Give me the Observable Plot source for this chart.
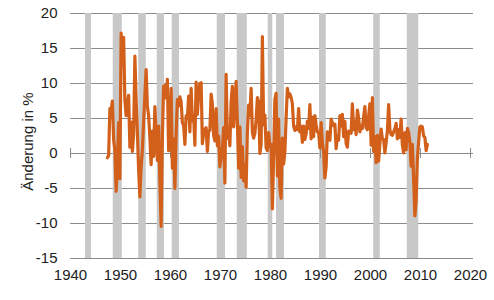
<!DOCTYPE html>
<html>
<head>
<meta charset="utf-8">
<script src="https://cdn.jsdelivr.net/npm/d3@7"></script>
<script src="https://cdn.jsdelivr.net/npm/@observablehq/plot@0.6"></script>
<style>
  html, body { margin: 0; padding: 0; background: #fff; }
  #chart { width: 494px; height: 300px; }
</style>
</head>
<body>
<div id="chart"></div>
<script>
// Quarterly change in %, annualized, starting with Q2 1947
const startYear = 1947;
const startQuarter = 2;
const growth = [
  -0.6, -0.3, 6.4,                 // 1947
  6.2, 7.5, 2.0, 0.5,              // 1948
  -5.4, -1.4, 4.4, -3.6,           // 1949
  17.2, 12.7, 16.6, 7.7,           // 1950
  5.4, 7.1, 8.3, 0.9,              // 1951
  4.5, 0.3, 2.7, 13.9,             // 1952
  7.7, 3.1, -2.4, -6.2,            // 1953
  -1.9, 0.5, 4.6, 8.3,             // 1954
  12.0, 6.8, 5.4, 2.3,             // 1955
  -1.6, 3.2, -0.4, 6.7,            // 1956
  2.6, -1.0, 3.9, -4.1,            // 1957
  -10.4, 2.6, 9.6, 9.7,            // 1958
  7.9, 10.6, 0.4, 1.3,             // 1959
  9.3, -2.1, 2.1, -5.0,            // 1960
  2.7, 7.7, 6.8, 8.1,              // 1961
  7.4, 4.4, 4.0, 1.3,              // 1962
  5.4, 5.0, 8.2, 3.1,              // 1963
  9.3, 4.7, 5.5, 1.2,              // 1964
  10.2, 5.6, 8.4, 10.0,            // 1965
  10.1, 1.4, 2.9, 3.5,             // 1966
  3.7, 0.3, 3.2, 3.3,              // 1967
  8.5, 7.0, 2.6, 1.8,              // 1968
  6.4, 1.1, 2.5, -1.9,             // 1969
  -0.6, 0.6, 3.7, -4.2,            // 1970
  11.3, 2.2, 3.2, 1.1,             // 1971
  7.4, 9.6, 3.8, 6.9,              // 1972
  10.3, 4.5, -2.1, 3.8,            // 1973
  -3.4, 1.0, -3.9, -1.6,           // 1974
  -4.8, 3.1, 6.9, 5.4,             // 1975
  9.3, 3.0, 2.2, 2.9,              // 1976
  4.8, 8.0, 7.4, 0.0,              // 1977
  1.3, 16.7, 4.1, 5.5,             // 1978
  0.8, 0.4, 3.0, 1.0,              // 1979
  1.3, -7.9, -0.5, 7.7,            // 1980
  8.6, -3.2, 4.9, -4.9,            // 1981
  -6.4, 2.2, -1.5, 0.3,            // 1982
  5.1, 9.3, 8.1, 8.5,              // 1983
  8.0, 7.1, 3.9, 3.3,              // 1984
  3.8, 3.4, 6.4, 3.1,              // 1985
  3.9, 1.6, 3.9, 2.0,              // 1986
  2.8, 4.6, 3.6, 7.0,              // 1987
  2.1, 5.2, 2.4, 5.4,              // 1988
  4.1, 3.1, 3.0, 0.8,              // 1989
  4.4, 1.5, 0.3, -3.5,             // 1990
  -1.9, 3.1, 2.0, 1.9,             // 1991
  4.9, 4.4, 4.0, 4.2,              // 1992
  0.7, 2.5, 1.9, 5.4,              // 1993
  3.9, 5.6, 2.4, 4.6,              // 1994
  1.4, 0.9, 3.2, 3.0,              // 1995
  2.9, 7.1, 3.4, 4.6,              // 1996
  2.7, 6.2, 5.1, 3.1,              // 1997
  3.9, 3.6, 5.2, 6.7,              // 1998
  3.7, 3.4, 5.3, 7.1,              // 1999
  1.2, 8.0, 0.3, 2.4,              // 2000
  -1.3, 2.6, -1.1, 1.4,            // 2001
  3.5, 2.1, 2.0, 0.1,              // 2002
  1.6, 3.2, 7.0, 3.4,              // 2003
  2.7, 2.6, 3.1, 3.5,              // 2004
  4.3, 2.1, 3.4, 2.3,              // 2005
  4.9, 1.2, 0.1, 3.0,              // 2006
  0.5, 3.6, 3.0, 1.7,              // 2007
  -1.8, 1.3, -3.7, -8.9,           // 2008
  -6.7, -0.7, 1.7, 3.8,            // 2009
  3.9, 3.8, 2.5, 2.3,              // 2010
  0.4, 1.3                         // 2011
];

// Shaded periods (recessions), as drawn
const recessionStart = [1943.0, 1948.55, 1953.65, 1957.35, 1960.35, 1969.35, 1973.35, 1979.55, 1981.2, 1989.8, 2000.65, 2007.35];
const recessionEnd   = [1944.2, 1950.35, 1955.15, 1958.8,  1961.8,  1971.0,  1975.35, 1980.45, 1982.8, 1991.15, 2001.95, 2009.65];

const xTicks = [1940, 1950, 1960, 1970, 1980, 1990, 2000, 2010, 2020];
const yTicks = [-15, -10, -5, 0, 5, 10, 15, 20];
const yLabel = "Änderung in %";

const series = growth.map((v, i) => ({
  t: startYear + (startQuarter - 1 + i) / 4 + 0.125,
  v
}));
const recessions = recessionStart.map((s, i) => ({start: s, end: recessionEnd[i]}));

const gridColor = "#8c8c8c";
const chart = Plot.plot({
  width: 494,
  height: 300,
  marginLeft: 70,
  marginRight: 24,
  marginTop: 13,
  marginBottom: 42,
  style: {
    fontFamily: "'Liberation Sans', Arial, sans-serif",
    fontSize: "15px",
    color: "#222",
    background: "#fff"
  },
  x: {domain: [1940, 2020], ticks: xTicks, tickFormat: d => String(d), tickSize: 0, tickPadding: 11, label: null},
  y: {domain: [-15, 20], ticks: yTicks, tickFormat: d => String(d), tickSize: 0, tickPadding: 13, label: null},
  marks: [
    Plot.ruleY(yTicks, {x1: 1940, x2: 2020.6, stroke: gridColor, strokeWidth: 1}),
    Plot.rect(recessions, {x1: "start", x2: "end", y1: -15, y2: 20, fill: "#c8c8c8"}),
    Plot.ruleX(xTicks, {y1: -0.7, y2: 0.7, stroke: gridColor, strokeWidth: 1}),
    Plot.line(series, {x: "t", y: "v", stroke: "#d2601a", strokeWidth: 3.2, strokeLinejoin: "round", strokeLinecap: "round"}),
    Plot.text([yLabel], {x: 1940, y: 1.7, dx: -42.5, rotate: -90, fontSize: 15, fill: "#222", text: d => d})
  ]
});
document.getElementById("chart").appendChild(chart);
</script>
</body>
</html>
